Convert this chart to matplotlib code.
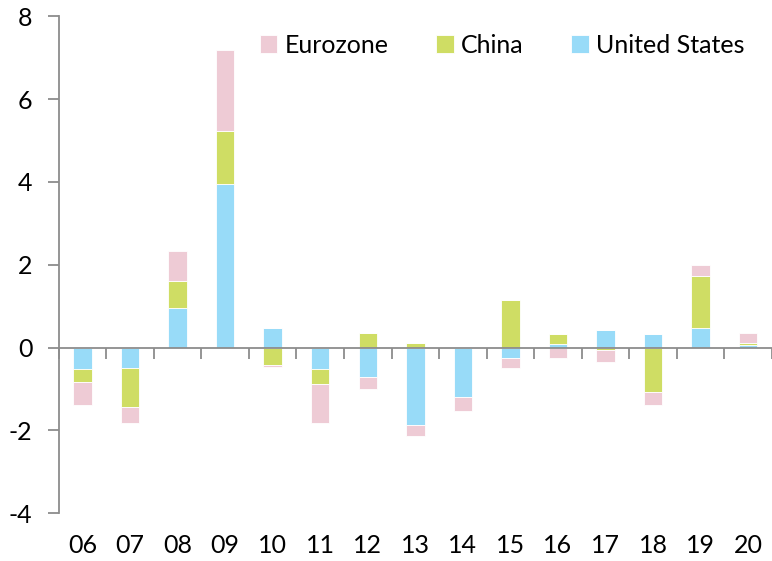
import matplotlib
matplotlib.use("Agg")
import matplotlib.pyplot as plt
import numpy as np

years = ["06", "07", "08", "09", "10", "11", "12", "13", "14", "15", "16", "17", "18", "19", "20"]
us    = [-0.52, -0.49, 0.95, 3.94, 0.48, -0.52, -0.71, -1.87, -1.20, -0.26, 0.09, 0.43, 0.33, 0.47, 0.06]
china = [-0.31, -0.94, 0.67, 1.28, -0.43, -0.36, 0.36, 0.10, 0.00, 1.16, 0.24, -0.06, -1.07, 1.27, 0.06]
euro  = [-0.56, -0.39, 0.71, 1.96, -0.03, -0.94, -0.28, -0.27, -0.32, -0.23, -0.24, -0.29, -0.31, 0.25, 0.23]

series = [("United States", us, "#98DBF8"), ("China", china, "#CFDD64"), ("Eurozone", euro, "#EECBD5")]

plt.rcParams['font.family'] = ['Lato', 'DejaVu Sans']

fig = plt.figure(figsize=(7.72, 5.61), dpi=100)
ax = fig.add_axes([0.076, 0.085, 0.924, 0.886])

x = np.arange(len(years))
pos_base = np.zeros(len(years))
neg_base = np.zeros(len(years))
handles = {}
for name, vals, col in series:
    v = np.array(vals)
    p = np.where(v > 0, v, 0)
    n = np.where(v < 0, v, 0)
    h = ax.bar(x, p, 0.39, bottom=pos_base, color=col, edgecolor="white", linewidth=0.6, label=name)
    ax.bar(x, n, 0.39, bottom=neg_base, color=col, edgecolor="white", linewidth=0.6)
    pos_base += p
    neg_base += n
    handles[name] = h

ax.set_ylim(-4, 8)
ax.set_xlim(-0.5, 14.39)
gray = "#8C8C8C"
for s in ["top", "right"]:
    ax.spines[s].set_visible(False)
ax.spines["left"].set_color(gray)
ax.spines["left"].set_linewidth(1.3)
ax.spines["bottom"].set_position(("data", 0))
ax.spines["bottom"].set_color(gray)
ax.spines["bottom"].set_linewidth(1.3)

ax.set_yticks([-4, -2, 0, 2, 4, 6, 8])
ax.set_yticklabels(["-4", "-2", "0", "2", "4", "6", "8"])
ax.tick_params(axis="y", length=8, width=1.3, color=gray, labelsize=18, pad=11)

ax.set_xticks(np.arange(-0.5, 15, 1.0))
ax.tick_params(axis="x", length=8, width=1.3, color=gray, labelbottom=False, direction="out")

sec = ax.secondary_xaxis(0.0)
sec.set_xticks(x)
sec.set_xticklabels(years)
sec.tick_params(length=0, labelsize=18, pad=15)
sec.spines["bottom"].set_visible(False)

leg_order = ["Eurozone", "China", "United States"]
ax.legend([handles[k] for k in leg_order], leg_order, ncol=3, loc="center right",
          bbox_to_anchor=(0.962, 0.942), frameon=False, fontsize=18,
          handlelength=0.7, handleheight=0.7, handletextpad=0.3,
          columnspacing=1.9, borderaxespad=0.0, borderpad=0.0)

fig.savefig("out.png", dpi=100)
